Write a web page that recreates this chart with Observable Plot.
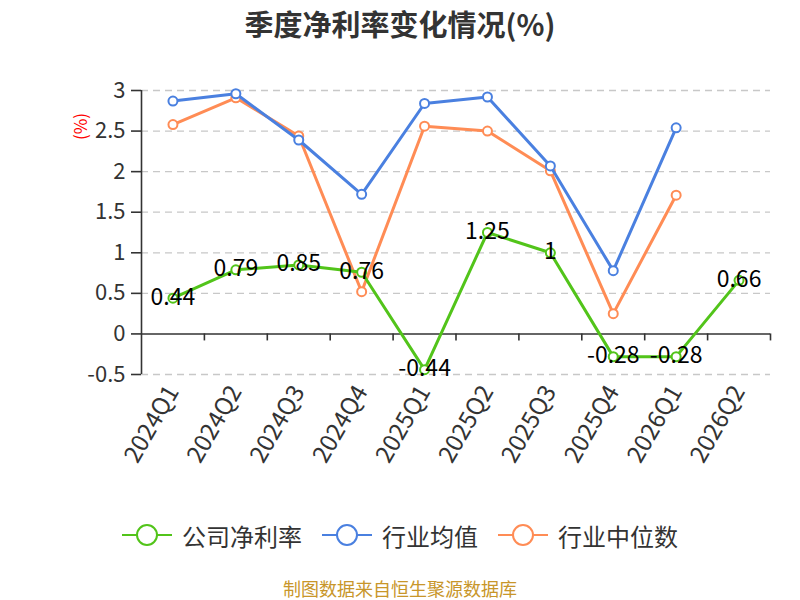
<!DOCTYPE html>
<html>
<head>
<meta charset="utf-8">
<script src="https://cdn.jsdelivr.net/npm/d3@7"></script>
<script src="https://cdn.jsdelivr.net/npm/@observablehq/plot@0.6"></script>
<style>
  html, body { margin: 0; padding: 0; background: #fff; }
  body { width: 800px; height: 600px; overflow: hidden; font-family: "Noto Sans CJK SC", "Noto Sans", sans-serif; position: relative; }
  #title { height: 44px; line-height: 46px; text-align: center; font-size: 29px; font-weight: bold; color: #333; }
  #chart { height: 460px; }
  #legend { display: flex; justify-content: center; align-items: center; height: 60px; margin-top: 1px; font-size: 24px; color: #333; }
  .item { display: flex; align-items: center; margin: 0 10px; }
  .item svg { margin-right: 10px; }
  #caption { position: absolute; left: 0; right: 0; top: 579px; text-align: center; font-size: 18px; line-height: 19px; color: #c8962a; }
</style>
</head>
<body>
<div id="title">季度净利率变化情况(%)</div>
<div id="chart"></div>
<div id="legend"></div>
<div id="caption">制图数据来自恒生聚源数据库</div>
<script>
const quarters = ["2024Q1","2024Q2","2024Q3","2024Q4","2025Q1","2025Q2","2025Q3","2025Q4","2026Q1","2026Q2"];
const company = [0.44, 0.79, 0.85, 0.76, -0.44, 1.25, 1, -0.28, -0.28, 0.66];
const industryAvg = [2.87, 2.96, 2.39, 1.72, 2.84, 2.92, 2.07, 0.78, 2.54, null];
const industryMedian = [2.58, 2.91, 2.44, 0.52, 2.56, 2.50, 2.01, 0.25, 1.71, null];
const yTicks = [-0.5, 0, 0.5, 1, 1.5, 2, 2.5, 3];
const seriesNames = ["公司净利率", "行业均值", "行业中位数"];
const seriesColors = ["#52c41a", "#4a80e0", "#ff8c55"];

const toRows = (vals) => vals.map((v, i) => ({i, q: quarters[i], v})).filter(d => d.v != null);
const series = [company, industryAvg, industryMedian].map(toRows);
const boundaries = quarters.map((q, i) => i + 0.5);

const lineMarks = [];
[2, 1, 0].forEach(k => {
  lineMarks.push(Plot.line(series[k], {x: "i", y: "v", stroke: seriesColors[k], strokeWidth: 3}));
  lineMarks.push(Plot.dot(series[k], {x: "i", y: "v", r: 4.5, fill: "#fff", stroke: seriesColors[k], strokeWidth: 2}));
});

const chart = Plot.plot({
  width: 800,
  height: 460,
  marginLeft: 141,
  marginRight: 30,
  marginTop: 46,
  marginBottom: 130,
  style: {fontFamily: "'Noto Sans CJK SC', 'Noto Sans', sans-serif", background: "#fff"},
  x: {type: "linear", domain: [-0.5, quarters.length - 0.5], axis: null},
  y: {domain: [-0.5, 3], axis: null},
  marks: [
    Plot.ruleY(yTicks.filter(t => t !== 0), {stroke: "#c8c8c8", strokeWidth: 1.3, strokeDasharray: "7,5"}),
    Plot.ruleY([0], {stroke: "#333", strokeWidth: 1.6}),
    Plot.ruleX([-0.5], {y1: -0.5, y2: 3, stroke: "#333", strokeWidth: 1.6}),
    Plot.ruleX(boundaries, {x: d => d, y1: 0, y2: 0, insetBottom: -7, stroke: "#333", strokeWidth: 1.6}),
    Plot.axisY({ticks: yTicks, tickFormat: d => String(d), label: null, tickSize: 10, tickPadding: 6, fontSize: 22, fill: "#333", stroke: "#333", strokeWidth: 1.6}),
    Plot.axisX({ticks: d3.range(quarters.length), tickFormat: i => quarters[i], label: null, tickRotate: -60, tickSize: 0, tickPadding: 13, fontSize: 24, fill: "#333"}),
    Plot.text(["(%)"], {frameAnchor: "top-left", text: d => d, textAnchor: "middle", rotate: -90, dx: -67, dy: 36, fill: "red", fontSize: 17}),
    ...lineMarks,
    Plot.text(series[0], {x: "i", y: "v", text: d => String(d.v), fontSize: 23, fill: "#000", dy: -1})
  ]
});
document.getElementById("chart").appendChild(chart);

const legend = document.getElementById("legend");
seriesNames.forEach((name, k) => {
  const item = document.createElement("div");
  item.className = "item";
  item.innerHTML = `<svg width="50" height="26"><line x1="0" y1="13" x2="50" y2="13" stroke="${seriesColors[k]}" stroke-width="2"/><circle cx="25" cy="13" r="10" fill="#fff" stroke="${seriesColors[k]}" stroke-width="2"/></svg><span>${name}</span>`;
  legend.appendChild(item);
});
</script>
</body>
</html>
